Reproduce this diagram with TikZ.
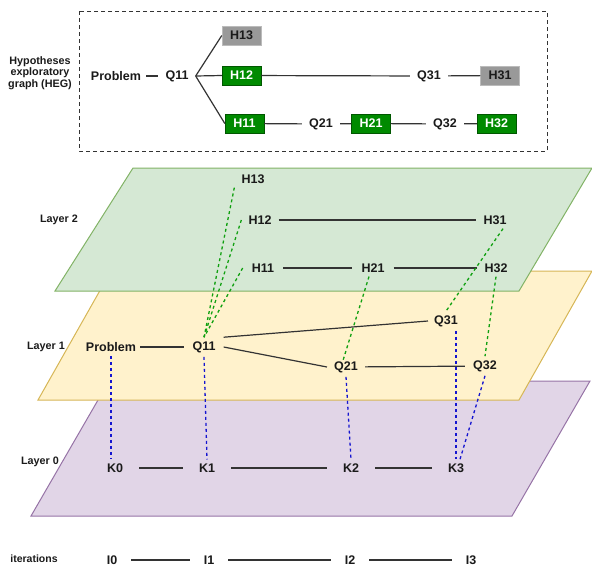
\documentclass[tikz,border=0pt]{standalone}
\usepackage{fontspec}
\setmainfont{Liberation Sans}
\definecolor{l2fill}{HTML}{D5E8D4}\definecolor{l2line}{HTML}{82B366}
\definecolor{l1fill}{HTML}{FFF2CC}\definecolor{l1line}{HTML}{D6B656}
\definecolor{l0fill}{HTML}{E1D5E7}\definecolor{l0line}{HTML}{9673A6}
\definecolor{hgreen}{HTML}{008A00}\definecolor{hgreenb}{HTML}{005700}
\definecolor{hgray}{HTML}{999999}\definecolor{hgrayb}{HTML}{BBBBBB}
\definecolor{gdash}{HTML}{10A010}\definecolor{bdash}{HTML}{1515D0}
\definecolor{txt}{HTML}{1A1A1A}
\begin{document}
\begin{tikzpicture}[x=1pt,y=-1pt,
  lbl/.style={font=\fontsize{12.5}{14}\selectfont\bfseries, text=txt, inner xsep=7pt, inner ysep=4pt},
  knode/.style={lbl, inner xsep=16pt},
  inode/.style={lbl, inner xsep=14pt},
  side/.style={font=\fontsize{10.8}{12.5}\selectfont\bfseries, text=txt, align=center},
  gbox/.style={font=\fontsize{12.5}{14}\selectfont\bfseries, text=white, fill=hgreen, draw=hgreenb, minimum width=39pt, minimum height=19pt, inner sep=0pt},
  ybox/.style={font=\fontsize{12.5}{14}\selectfont\bfseries, text=txt, fill=hgray, draw=hgrayb, minimum width=39pt, minimum height=19pt, inner sep=0pt},
  conn/.style={draw=black!80, line width=1.2pt},
  gd/.style={draw=gdash, line width=1.3pt, dash pattern=on 3pt off 3pt},
  bd/.style={draw=bdash, line width=1.3pt, dash pattern=on 3pt off 3pt}]
\useasboundingbox (0,0) rectangle (592,566);

% HEG box
\draw[draw=black!80, line width=1pt, dash pattern=on 4pt off 3pt] (79,11) rectangle (547,151);
\node[side] (heglbl) at (40,73) {Hypotheses\\[-1pt]exploratory\\[-1pt]graph (HEG)};
\node[lbl, inner xsep=5pt] (hP) at (116,76) {Problem};
\node[lbl] (hQ11) at (177,76) {Q11};
\node[ybox] (hH13) at (241.5,35.5) {H13};
\node[gbox] (hH12) at (241.5,75.5) {H12};
\node[gbox] (hH11) at (244.5,123.5) {H11};
\node[lbl] (hQ31) at (429,76) {Q31};
\node[ybox] (hH31) at (500,75.5) {H31};
\node[lbl] (hQ21) at (321,124) {Q21};
\node[gbox] (hH21) at (371,123.5) {H21};
\node[lbl] (hQ32) at (445,124) {Q32};
\node[gbox] (hH32) at (496.5,123.5) {H32};
\draw[conn] (hP) -- (hQ11);
\draw[conn] (hQ11.east) -- (hH13.west);
\draw[conn] (hQ11.east) -- (hH12.west);
\draw[conn] (hQ11.east) -- (hH11.west);
\draw[conn] (hH12) -- (hQ31);
\draw[conn] (hQ31) -- (hH31);
\draw[conn] (hH11) -- (hQ21);
\draw[conn] (hQ21) -- (hH21);
\draw[conn] (hH21) -- (hQ32);
\draw[conn] (hQ32) -- (hH32);

% planes
\filldraw[fill=l0fill, draw=l0line, line width=1pt] (109,381) -- (590,381) -- (512,516) -- (31,516) -- cycle;
\filldraw[fill=l1fill, draw=l1line, line width=1pt] (111,271) -- (592,271) -- (519,400) -- (38,400) -- cycle;
\filldraw[fill=l2fill, draw=l2line, line width=1pt] (133,168) -- (592,168) -- (519,291) -- (55,291) -- cycle;

\node[side] (lay2) at (59,220) {Layer 2};
\node[side] (lay1) at (46,347) {Layer 1};
\node[side] (lay0) at (40,462) {Layer 0};
\node[side, font=\fontsize{10.5}{12}\selectfont\bfseries] (iter) at (34,559) {iterations};

% layer 2
\node[lbl] (H13) at (253,179) {H13};
\node[lbl] (H12) at (260,220) {H12};
\node[lbl] (H31) at (495,220) {H31};
\node[lbl, inner xsep=9pt] (H11) at (263,268) {H11};
\node[lbl, inner xsep=9pt] (H21) at (373,268) {H21};
\node[lbl] (H32) at (496,268) {H32};
\draw[conn] (H12) -- (H31);
\draw[conn] (H11) -- (H21);
\draw[conn] (H21) -- (H32);

% layer 1
\node[lbl, inner xsep=4pt] (P) at (111,347) {Problem};
\node[lbl, inner xsep=8pt] (Q11) at (204,347) {Q11};
\node[lbl, inner xsep=6pt] (Q31) at (446,321) {Q31};
\node[lbl] (Q21) at (346,367) {Q21};
\node[lbl, inner xsep=8pt] (Q32) at (485,366) {Q32};
\draw[conn] (P) -- (Q11);
\draw[conn] (Q11.north east) -- (Q31.west);
\draw[conn] (Q11.east) -- (Q21.west);
\draw[conn] (Q21) -- (Q32);

% layer 0
\node[knode] (K0) at (115,468) {K0};
\node[knode] (K1) at (207,468) {K1};
\node[knode] (K2) at (351,468) {K2};
\node[knode] (K3) at (456,468) {K3};
\draw[conn] (K0) -- (K1);
\draw[conn] (K1) -- (K2);
\draw[conn] (K2) -- (K3);

% iterations
\node[inode] (I0) at (112,560) {I0};
\node[inode] (I1) at (209,560) {I1};
\node[inode] (I2) at (350,560) {I2};
\node[inode] (I3) at (471,560) {I3};
\draw[conn] (I0) -- (I1);
\draw[conn] (I1) -- (I2);
\draw[conn] (I2) -- (I3);

% green dashed
\draw[gd] (H13.south west) -- (Q11.north);
\draw[gd] (H12.west) -- (Q11.north);
\draw[gd] (H11.west) -- (Q11.north);
\draw[gd, shorten >=-5pt] ([xshift=-4pt]H21.south) -- ([xshift=-2pt]Q21.north);
\draw[gd] ([xshift=8pt]H31.south) -- (Q31.north);
\draw[gd] (H32.south) -- (Q32.north);

% blue dashed
\draw[bd] (P.south) -- (P.south |- K0.north);
\draw[bd] (Q11.south) -- (K1.north);
\draw[bd] (Q21.south) -- (K2.north);
\draw[bd] ([xshift=10pt]Q31.south) -- (K3.north);
\draw[bd] (Q32.south) -- ([xshift=4pt]K3.north);
\end{tikzpicture}
\end{document}
